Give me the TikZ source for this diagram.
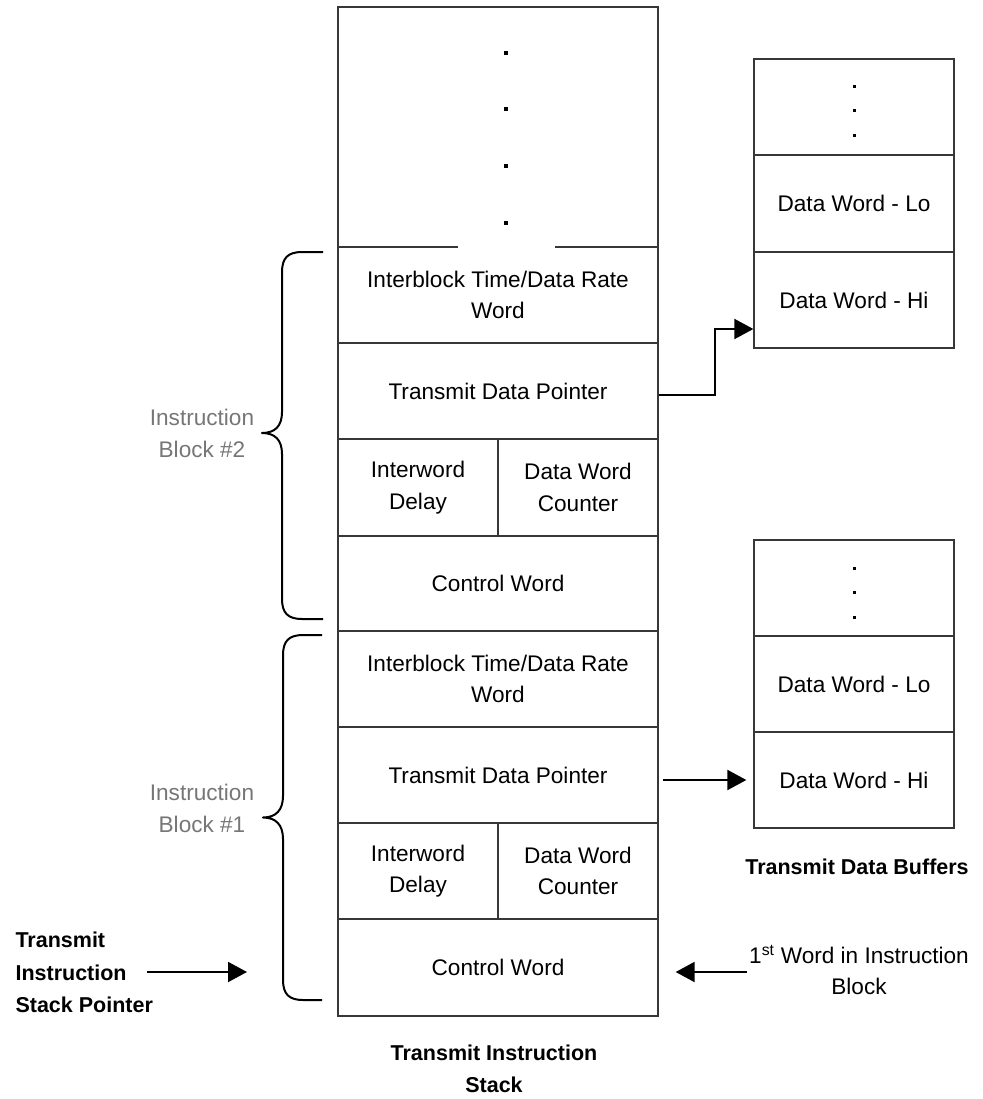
\documentclass[tikz,border=0pt]{standalone}
\usepackage{fontspec}
\setmainfont{Liberation Sans}
\usetikzlibrary{arrows.meta}
\definecolor{labelgray}{RGB}{118,118,118}
\definecolor{gridline}{RGB}{55,55,55}
\begin{document}
\begin{tikzpicture}[x=1pt,y=-1pt,
  every node/.style={font=\fontsize{22.6}{31.5}\selectfont},
  cell/.style={draw=gridline, line width=1.3pt, inner sep=0pt, align=center},
  wide/.style={cell, minimum width=320pt},
  half/.style={cell, minimum width=160pt},
  buf/.style={cell, minimum width=200pt, minimum height=96pt},
  arr/.style={line width=2pt, -{Triangle[length=19pt,width=20pt]}},
  bracestyle/.style={line width=2pt, line join=round},
  boldlbl/.style={font=\fontsize{21.5}{32.5}\selectfont\bfseries},
  note/.style={text=labelgray, align=center}]

\useasboundingbox (0,0) rectangle (982,1099);

% ---- transmit instruction stack ----
\node[wide, minimum height=240pt] (topcell) at (498,127) {};
\node[wide, minimum height=96pt] (ib2)  at (498,295)   {Interblock Time/Data Rate\\Word};
\node[wide, minimum height=96pt] (tdp2) at (498,391)   {Transmit Data Pointer};
\node[half, minimum height=97pt] (iwd2) at (418,487.5) {Interword\\Delay};
\node[half, minimum height=97pt] (dwc2) at (578,487.5) {Data Word\\Counter};
\node[wide, minimum height=95pt] (cw2)  at (498,583.5) {Control Word};
\node[wide, minimum height=96pt] (ib1)  at (498,679)   {Interblock Time/Data Rate\\Word};
\node[wide, minimum height=96pt] (tdp1) at (498,775)   {Transmit Data Pointer};
\node[half, minimum height=96pt] (iwd1) at (418,871)   {Interword\\Delay};
\node[half, minimum height=96pt] (dwc1) at (578,871)   {Data Word\\Counter};
\node[wide, minimum height=97pt] (cw1)  at (498,967.5) {Control Word};

% the divider under the ellipsis is interrupted in the middle
\draw[white, line width=2.6pt] (458,247) -- (555,247);

% ellipsis in the upper part of the stack
\foreach \yy in {53,109,166,223}
  \fill (506-2.3,\yy-2.3) rectangle (506+2.3,\yy+2.3);

% ---- transmit data buffers ----
\node[buf] (dots2) at (854,107) {};
\node[buf, minimum height=97pt] (lo2) at (854,203.5) {Data Word - Lo};
\node[buf] (hi2) at (854,300) {Data Word - Hi};

\node[buf] (dots1) at (854,588) {};
\node[buf] (lo1) at (854,684) {Data Word - Lo};
\node[buf] (hi1) at (854,780) {Data Word - Hi};

\foreach \yy in {87,111,135.5}
  \fill (854-1.5,\yy-1.5) rectangle (854+1.5,\yy+1.5);
\foreach \yy in {568,592.5,617}
  \fill (854-1.5,\yy-1.5) rectangle (854+1.5,\yy+1.5);

\node[boldlbl] (buftitle) at (857,867) {Transmit Data Buffers};

% ---- pointers into the buffers ----
\draw[arr] ([yshift=-4pt]tdp2.east) -- ++(56,0) |- ([yshift=-29pt]hi2.west);
\draw[arr, shorten <=4pt, shorten >=7pt] (tdp1.east |- hi1.west) -- (hi1.west);

% ---- instruction block braces ----
\draw[bracestyle] (323,252) -- (302,252)
  .. controls (288,252) and (282,258) .. (282,272) -- (282,412)
  .. controls (282,426) and (275,433) .. (262,433)
  .. controls (275,433) and (282,440) .. (282,454) -- (282,599)
  .. controls (282,613) and (288,619) .. (302,619) -- (323,619);
\draw[bracestyle] (322,635) -- (303,635)
  .. controls (289,635) and (283,641) .. (283,655) -- (283,796)
  .. controls (283,810) and (276,817.5) .. (263,817.5)
  .. controls (276,817.5) and (283,825) .. (283,839) -- (283,980)
  .. controls (283,994) and (289,1000) .. (303,1000) -- (322,1000);

\node[note] (blk2) at (202,433.5) {Instruction\\Block \#2};
\node[note] (blk1) at (202,808.5) {Instruction\\Block \#1};

% ---- stack pointer and first word ----
\node[boldlbl, align=left, anchor=west] (tisp) at (12,972.5) {Transmit\\Instruction\\Stack Pointer};
\coordinate (sptail) at (147,972);
\coordinate (sptip) at (247,972);
\draw[arr] (sptail) -- (sptip);

\node[align=center] (firstw) at (859,970) {1\textsuperscript{st} Word in Instruction\\Block};
\coordinate (fwtail) at (747,972);
\draw[arr, shorten >=17pt] (fwtail) -- (fwtail -| cw1.east);

\node[boldlbl, align=center] (stacktitle) at (494,1069) {Transmit Instruction\\Stack};
\end{tikzpicture}
\end{document}
